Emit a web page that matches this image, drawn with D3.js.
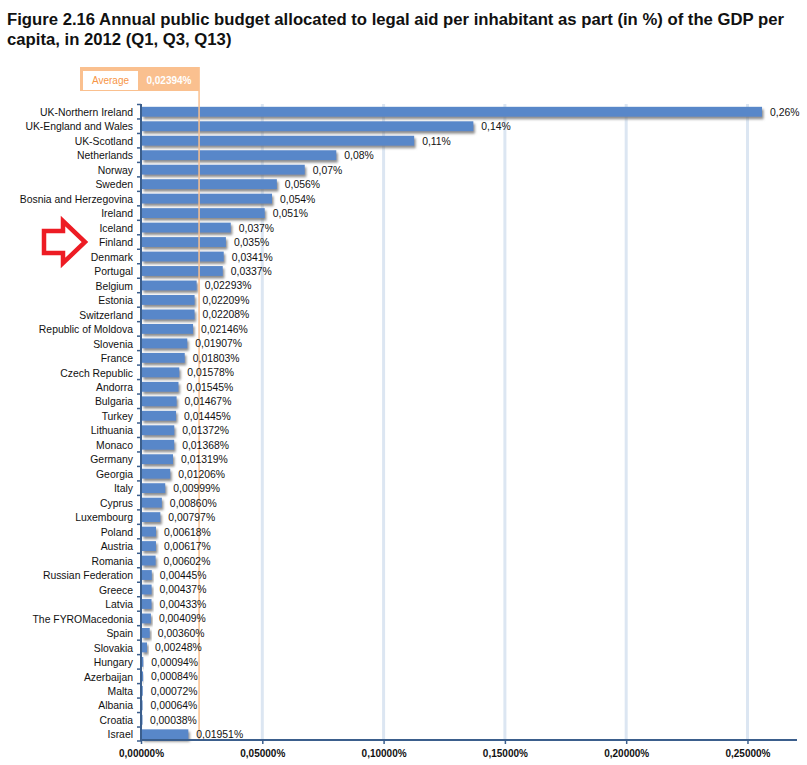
<!DOCTYPE html>
<html>
<head>
<meta charset="utf-8">
<script src="https://cdn.jsdelivr.net/npm/d3@7"></script>
<style>
  body { margin: 0; background: #fff; }
  svg { display: block; font-family: Arial, "Liberation Sans", sans-serif; }
</style>
</head>
<body>
<svg id="chart" width="807" height="765"></svg>
<script>
const countries = [
  'UK-Northern Ireland', 'UK-England and Wales', 'UK-Scotland', 'Netherlands', 'Norway',
  'Sweden', 'Bosnia and Herzegovina', 'Ireland', 'Iceland', 'Finland', 'Denmark', 'Portugal',
  'Belgium', 'Estonia', 'Switzerland', 'Republic of Moldova', 'Slovenia', 'France',
  'Czech Republic', 'Andorra', 'Bulgaria', 'Turkey', 'Lithuania', 'Monaco', 'Germany',
  'Georgia', 'Italy', 'Cyprus', 'Luxembourg', 'Poland', 'Austria', 'Romania',
  'Russian Federation', 'Greece', 'Latvia', 'The FYROMacedonia', 'Spain', 'Slovakia',
  'Hungary', 'Azerbaijan', 'Malta', 'Albania', 'Croatia', 'Israel'
]
// bar lengths (%)
const values = [
  0.256, 0.137, 0.1126, 0.0805, 0.0675,
  0.056, 0.054, 0.051, 0.037, 0.035, 0.0341, 0.0337,
  0.02293, 0.02209, 0.02208, 0.02146, 0.01907, 0.01803,
  0.01578, 0.01545, 0.01467, 0.01445, 0.01372, 0.01368, 0.01319,
  0.01206, 0.00999, 0.00860, 0.00797, 0.00618, 0.00617, 0.00602,
  0.00445, 0.00437, 0.00433, 0.00409, 0.00360, 0.00248,
  0.00094, 0.00084, 0.00072, 0.00064, 0.00038, 0.01951
]
// labels as printed
const valueLabels = [
  '0,26%', '0,14%', '0,11%', '0,08%', '0,07%',
  '0,056%', '0,054%', '0,051%', '0,037%', '0,035%', '0,0341%', '0,0337%',
  '0,02293%', '0,02209%', '0,02208%', '0,02146%', '0,01907%', '0,01803%',
  '0,01578%', '0,01545%', '0,01467%', '0,01445%', '0,01372%', '0,01368%', '0,01319%',
  '0,01206%', '0,00999%', '0,00860%', '0,00797%', '0,00618%', '0,00617%', '0,00602%',
  '0,00445%', '0,00437%', '0,00433%', '0,00409%', '0,00360%', '0,00248%',
  '0,00094%', '0,00084%', '0,00072%', '0,00064%', '0,00038%', '0,01951%'
]
const xTicks = [0, 0.05, 0.10, 0.15, 0.20, 0.25]
const average = 0.02394
const averageLabel = '0,02394%'
const titleLines = [
  'Figure 2.16 Annual public budget allocated to legal aid per inhabitant as part (in %) of the GDP per',
  'capita, in 2012 (Q1, Q3, Q13)'
]

const data = countries.map((c, i) => ({country: c, value: values[i], label: valueLabels[i]}))

const svg = d3.select('#chart')
const x = d3.scaleLinear().domain([0, 0.27]).range([141, 796])
const y = d3.scaleBand().domain(countries).range([104.5, 741.5]).paddingInner(0.32).paddingOuter(0.16)

const axisColor = '#3b5e8c'
const barColor = '#5887c9'
const orange = '#fac08f'
const font = 'Arial, "Liberation Sans", sans-serif'

// title
svg.append('g').selectAll('text')
  .data(titleLines)
  .join('text')
  .attr('x', 7)
  .attr('y', (d, i) => 25 + i * 20)
  .attr('font-size', 16.7)
  .attr('font-weight', 'bold')
  .attr('fill', '#111')
  .text(d => d)

const defs = svg.append('defs')
defs.append('filter').attr('id', 'shadow')
  .attr('x', '-10%').attr('y', '-30%').attr('width', '130%').attr('height', '190%')
  .append('feDropShadow')
  .attr('dx', 1.5).attr('dy', 2.5).attr('stdDeviation', 1.2)
  .attr('flood-color', '#6f6f6f').attr('flood-opacity', 0.8)

// gridlines
svg.append('g').selectAll('line')
  .data(xTicks.filter(t => t > 0))
  .join('line')
  .attr('x1', d => x(d)).attr('x2', d => x(d))
  .attr('y1', 104).attr('y2', 740)
  .attr('stroke', '#dce6f2').attr('stroke-width', 3)

// bars
svg.append('g').selectAll('rect')
  .data(data)
  .join('rect')
  .attr('x', x(0) + 1)
  .attr('y', d => y(d.country))
  .attr('width', d => Math.max(0.5, x(d.value) - x(0) - 1))
  .attr('height', y.bandwidth())
  .attr('fill', barColor)
  .attr('filter', 'url(#shadow)')

// average line
svg.append('line')
  .attr('x1', x(average)).attr('x2', x(average))
  .attr('y1', 67).attr('y2', 740)
  .attr('stroke', orange).attr('stroke-width', 1.5)

// value labels
svg.append('g').selectAll('text')
  .data(data)
  .join('text')
  .attr('x', d => x(d.value) + 8)
  .attr('y', d => y(d.country) + y.bandwidth() / 2 + 4)
  .attr('font-size', 10.4)
  .attr('fill', '#111')
  .text(d => d.label)

// category axis
const yAxis = svg.append('g')
  .attr('transform', `translate(${x(0)},0)`)
  .call(d3.axisLeft(y).tickSize(0).tickPadding(8))
yAxis.select('.domain').remove()
yAxis.selectAll('text').attr('font-size', 10.4).attr('fill', '#111')
  .attr('font-family', font).attr('dy', '0.4em')

const bounds = countries.map(c => y(c) - y.step() * y.paddingInner() / 2).concat([741])
yAxis.append('g').selectAll('line')
  .data(bounds)
  .join('line')
  .attr('x1', -4).attr('x2', 0)
  .attr('y1', d => d).attr('y2', d => d)
  .attr('stroke', axisColor).attr('stroke-width', 1.5)
yAxis.append('line')
  .attr('x1', 0).attr('x2', 0).attr('y1', 104).attr('y2', 741)
  .attr('stroke', axisColor).attr('stroke-width', 2)

// value axis
const xAxis = svg.append('g')
  .attr('transform', 'translate(0,740)')
  .call(d3.axisBottom(x).tickValues(xTicks).tickSize(4).tickPadding(6)
    .tickFormat(d => d3.format('.5f')(d).replace('.', ',') + '%'))
xAxis.select('.domain').attr('d', `M${x(0)},0H797`).attr('stroke', axisColor).attr('stroke-width', 2)
xAxis.selectAll('.tick line').attr('stroke', axisColor).attr('stroke-width', 1.5)
xAxis.selectAll('text').attr('font-size', 10).attr('font-weight', 'bold').attr('fill', '#111')
  .attr('font-family', font)

// average label box
const box = svg.append('g')
box.append('rect').attr('x', 80).attr('y', 67).attr('width', x(average) - 80).attr('height', 24).attr('fill', orange)
box.append('rect').attr('x', 83).attr('y', 71).attr('width', 55).attr('height', 19).attr('fill', '#fff')
box.append('text').attr('x', 110.5).attr('y', 83.5).attr('text-anchor', 'middle')
  .attr('font-size', 10).attr('fill', '#f79646').text('Average')
box.append('text').attr('x', 169).attr('y', 83.5).attr('text-anchor', 'middle')
  .attr('font-size', 10).attr('font-weight', 'bold').attr('fill', '#fff').text(averageLabel)

// red arrow pointing at Finland
const arrowPts = [[44, 231], [63, 231], [63, 221], [85, 242], [63, 263], [63, 253], [44, 253]]
svg.append('path')
  .attr('d', d3.line()(arrowPts) + 'Z')
  .attr('fill', 'none').attr('stroke', '#ed1c24').attr('stroke-width', 4.5)
  .attr('stroke-linejoin', 'miter')
</script>
</body>
</html>
